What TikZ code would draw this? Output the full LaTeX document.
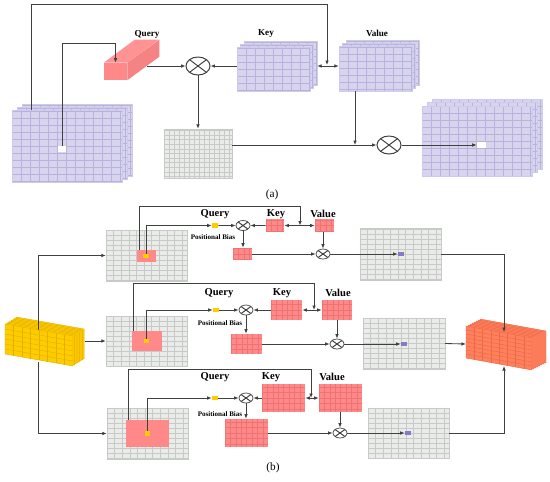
\documentclass[tikz,border=0pt]{standalone}
\usepackage{fontspec}
\setmainfont{Liberation Serif}
\usetikzlibrary{arrows.meta,shapes.geometric,fit,calc}

\definecolor{lav}{RGB}{216,212,238}
\definecolor{lavline}{RGB}{184,178,222}
\definecolor{salmon}{RGB}{255,136,136}
\definecolor{salmonline}{RGB}{238,116,116}
\definecolor{cellgray}{RGB}{234,236,234}
\definecolor{cellline}{RGB}{200,202,200}
\definecolor{gold}{RGB}{255,204,0}
\definecolor{goldline}{RGB}{228,176,0}
\definecolor{coral}{RGB}{255,128,92}
\definecolor{coralline}{RGB}{236,104,70}
\definecolor{pixpurple}{RGB}{136,120,200}
\definecolor{wire}{RGB}{64,64,64}

\begin{document}
\begin{tikzpicture}[
    x=0.025cm, y=-0.025cm,
    wire/.style={draw=wire, line width=0.6pt},
    arr/.style={wire, -{Latex[length=3.2pt,width=2.6pt]}},
    darr/.style={wire, {Latex[length=3.2pt,width=2.6pt]}-{Latex[length=3.2pt,width=2.6pt]}},
    layer/.style={inner sep=0pt, fill=lav, draw=lav!70!lavline, line width=0.3pt,
        path picture={\draw[lavline, line width=0.3pt, xstep=0.225cm, ystep=0.175cm]
            (path picture bounding box.south west) grid (path picture bounding box.north east);}},
    attn/.style={inner sep=0pt, fill=cellgray, draw=cellline, line width=0.3pt,
        path picture={\draw[cellline, line width=0.3pt, xstep=0.125cm, ystep=0.115cm]
            (path picture bounding box.south west) grid (path picture bounding box.north east);}},
    fmap/.style={inner sep=0pt, fill=cellgray, draw=cellline, line width=0.3pt,
        path picture={\draw[cellline, line width=0.3pt, xstep=0.19cm, ystep=0.125cm]
            (path picture bounding box.south west) grid (path picture bounding box.north east);}},
    token/.style={inner sep=0pt, fill=salmon,
        path picture={\draw[salmonline, line width=0.3pt, step=0.135cm]
            (path picture bounding box.south west) grid (path picture bounding box.north east);}},
    patch/.style={inner sep=0pt, fill=salmon},
    qpix/.style={inner sep=0pt, fill=gold},
    opix/.style={inner sep=0pt, fill=pixpurple},
    mul/.style={ellipse, draw=wire, line width=0.7pt, fill=white, inner sep=0pt,
        minimum width=0.6cm, minimum height=0.45cm,
        path picture={\draw[wire, line width=0.7pt]
            (path picture bounding box.south west) -- (path picture bounding box.north east)
            (path picture bounding box.north west) -- (path picture bounding box.south east);}},
    smul/.style={mul, line width=0.5pt, minimum width=0.35cm, minimum height=0.25cm},
    lbl/.style={font=\bfseries\fontsize{6.5}{7}\selectfont},
    blbl/.style={font=\bfseries\fontsize{7.5}{8}\selectfont},
    pblbl/.style={font=\bfseries\fontsize{5}{6}\selectfont},
    caption/.style={font=\fontsize{8}{9}\selectfont},
]
\useasboundingbox (0,0) rectangle (550,481);

\node[layer, fit={(22,104) (132,176)}] (inA3) {};
\node[layer, fit={(17,107) (127,179)}] (inA2) {};
\node[layer, fit={(12,110) (122,182)}] (inA1) {};
\node[inner sep=0pt, fill=white, fit={(58,146) (66,152)}] (pix) {};

\node[inner sep=0pt, fill=salmon, fit={(104,63) (127,80)}] (q) {};
\fill[salmon!92!white] (q.north west) -- ++(31,-23) -- ++(24,0) -- (q.north east) -- cycle;
\fill[salmon!96!black] (q.north east) -- ++(32,-23) -- ++(0,17) -- (q.south east) -- cycle;
\node[lbl] (qlbl) at (147,34) {Query};

\node[layer, fit={(244,41) (317,85)}] (keyA3) {};
\node[layer, fit={(240.5,44) (313.5,88)}] (keyA2) {};
\node[layer, fit={(237,47) (310,91)}] (keyA1) {};
\node[lbl] (klbl) at (266,33) {Key};

\node[layer, fit={(346,40) (419,85)}] (valA3) {};
\node[layer, fit={(342.5,43) (415.5,88)}] (valA2) {};
\node[layer, fit={(339,46) (412,91)}] (valA1) {};
\node[lbl] (vlbl) at (377,33) {Value};

\node[mul] (mulA1) at (198,66) {};
\node[attn, fit={(164,129) (232,178)}] (attA) {};
\node[mul] (mulA2) at (389,145) {};

\node[layer, fit={(432,99) (542,169)}] (outA3) {};
\node[layer, fit={(427,102.5) (537,172.5)}] (outA2) {};
\node[layer, fit={(422,106) (532,176)}] (outA1) {};
\node[inner sep=0pt, fill=white, fit={(477,142) (486,148)}] (outpix) {};

\coordinate (tapA) at (31,110);
\coordinate (kv) at (327,66);
\coordinate (qout) at (147,66);
\coordinate (vj) at (355,145);
\draw[arr] (tapA) -- (31,4) -| ($(kv)+(0,-1)$);
\draw[darr] (keyA3.east |- kv) -- (valA1.west |- kv);
\draw[arr] (pix.north) -- (pix.north |- 0,43) -| (q.north);
\draw[arr] (qout) -- (mulA1.west);
\draw[arr] (keyA1.west |- mulA1) -- (mulA1.east);
\draw[arr] (mulA1.south) -- (attA.north);
\draw[arr] (attA.east |- mulA2) -- (mulA2.west);
\draw[arr] (vj |- valA1.south) -- (vj);
\draw[arr] (mulA2.east) -- (outpix.west);

\node[caption] (capA) at (272,195) {(a)};

\foreach \i in {7,6,...,0}
    \filldraw[fill=gold, draw=goldline, line width=0.3pt] ($(5,324)+\i*(1.6,-1)$) -- ++(68,12) -- ++(0,30) -- ++(-68,-12) -- cycle;
\foreach \k in {1,...,7}
    \draw[goldline, line width=0.3pt] ($(5,324)+\k*(8.5,1.5)$) -- ++(0,30);
\foreach \j in {1,...,5}
    \draw[goldline, line width=0.3pt] (5,{324+5*\j}) -- ++(68,12);
\coordinate (featTop) at (38,330);
\coordinate (featRight) at (85,341);
\coordinate (featBot) at (38,362);

\foreach \i in {7,6,...,0}
    \filldraw[fill=coral, draw=coralline, line width=0.3pt] ($(466,326)+\i*(2,-1)$) -- ++(66,12) -- ++(0,32) -- ++(-66,-12) -- cycle;
\foreach \k in {1,...,7}
    \draw[coralline, line width=0.3pt] ($(466,326)+\k*(8.25,1.5)$) -- ++(0,32);
\foreach \j in {1,...,7}
    \draw[coralline, line width=0.3pt] (466,{326+4*\j}) -- ++(66,12);
\coordinate (outTop) at (504,332);
\coordinate (outLeft) at (466,344);
\coordinate (outBot) at (504,366);

\node[fmap, fit={(106,230) (187,281)}] (in1) {};
\node[patch, fit={(137,250) (156,262)}] (pat1) {};
\node[qpix, fit={(143,254) (149,258)}] (qp1) {};
\node[qpix, fit={(212,223) (218,228)}] (q1) {};
\node[smul] (mul1) at (243,225.5) {};
\node[token, fit={(266,219) (284,232)}] (k1) {};
\node[token, fit={(315,219) (334,232)}] (v1) {};
\node[token, fit={(233,248) (252,260)}] (pb1) {};
\node[smul] (mul1b) at (323,254) {};
\node[fmap, fit={(360,228) (441,280)}] (o1) {};
\node[opix, fit={(398,252) (404,256)}] (op1) {};
\node[blbl] (ql1) at (215,214) {Query};
\node[blbl] (kl1) at (276,214) {Key};
\node[blbl] (vl1) at (323,214) {Value};
\node[pblbl] (bl1) at (213,237) {Positional Bias};
\coordinate (j1) at (300,225.5);
\draw[arr] ($(pat1.north west)+(3,0)$) -- ++(0,-43) -| (j1);
\draw[arr] (qp1.north) |- (q1.west);
\draw[arr] (q1.east) -- (mul1.west);
\draw[arr] (k1.west) -- (mul1.east);
\draw[darr] (k1.east) -- (v1.west);
\draw[arr] (mul1.south) -- (mul1.south |- pb1.north);
\draw[arr] (pb1.east |- mul1b) -- (mul1b.west);
\draw[arr] (v1.south -| mul1b) -- (mul1b.north);
\draw[arr] (mul1b.east) -- (op1.west);

\node[fmap, fit={(106,316) (187,366)}] (in2) {};
\node[patch, fit={(132,331) (162,351)}] (pat2) {};
\node[qpix, fit={(144,339) (149,343)}] (qp2) {};
\node[qpix, fit={(213,308) (219,312)}] (q2) {};
\node[smul] (mul2) at (246,310) {};
\node[token, fit={(271,300) (302,320)}] (k2) {};
\node[token, fit={(322,300) (352,320)}] (v2) {};
\node[token, fit={(231,334) (262,354)}] (pb2) {};
\node[smul] (mul2b) at (337,344) {};
\node[fmap, fit={(363,318) (445,369)}] (o2) {};
\node[opix, fit={(401,342) (407,346)}] (op2) {};
\node[blbl] (ql2) at (219,293) {Query};
\node[blbl] (kl2) at (282,293) {Key};
\node[blbl] (vl2) at (338,293) {Value};
\node[pblbl] (bl2) at (220,323) {Positional Bias};
\coordinate (j2) at (314,310);
\draw[arr] ($(pat2.north west)+(2,0)$) -- ++(0,-47) -| (j2);
\draw[arr] (qp2.north) |- (q2.west);
\draw[arr] (q2.east) -- (mul2.west);
\draw[arr] (k2.west) -- (mul2.east);
\draw[darr] (k2.east) -- (v2.west);
\draw[arr] (mul2.south) -- (mul2.south |- pb2.north);
\draw[arr] (pb2.east |- mul2b) -- (mul2b.west);
\draw[arr] (v2.south -| mul2b) -- (mul2b.north);
\draw[arr] (mul2b.east) -- (op2.west);

\node[fmap, fit={(107,408) (188,459)}] (in3) {};
\node[patch, fit={(126,420) (169,447)}] (pat3) {};
\node[qpix, fit={(145,431) (150,436)}] (qp3) {};
\node[qpix, fit={(212,396) (218,400)}] (q3) {};
\node[smul] (mul3) at (246,398) {};
\node[token, fit={(262,384) (305,412)}] (k3) {};
\node[token, fit={(319,384) (362,412)}] (v3) {};
\node[blbl] (ql3) at (215,377) {Query};
\node[blbl] (kl3) at (271,377) {Key};
\node[blbl] (vl3) at (332,377) {Value};
\node[pblbl] (bl3) at (220,414) {Positional Bias};
\node[token, fit={(225,419) (268,447)}] (pb3) {};
\node[smul] (mul3b) at (340,433) {};
\node[fmap, fit={(368,408) (449,458)}] (o3) {};
\node[opix, fit={(405,431) (411,435)}] (op3) {};
\coordinate (j3) at (311,398);
\draw[arr] ($(pat3.north west)+(3,0)$) -- ++(0,-50) -| (j3);
\draw[arr] (qp3.north) |- (q3.west);
\draw[arr] (q3.east) -- (mul3.west);
\draw[arr] (k3.west) -- (mul3.east);
\draw[darr] (k3.east) -- (v3.west);
\draw[arr] (mul3.south) -- (mul3.south |- pb3.north);
\draw[arr] (pb3.east |- mul3b) -- (mul3b.west);
\draw[arr] (v3.south -| mul3b) -- (mul3b.north);
\draw[arr] (mul3b.east) -- (op3.west);

\draw[arr] (featTop) |- (in1.west);
\draw[arr] (featRight) -- (featRight -| in2.west);
\draw[arr] (featBot) |- (in3.west);
\draw[arr] (o1.east) -| (outTop);
\draw[arr] (o2.east) -- (outLeft);
\draw[arr] (o3.east) -| (outBot);

\node[caption] (capB) at (273,468) {(b)};

\end{tikzpicture}
\end{document}
